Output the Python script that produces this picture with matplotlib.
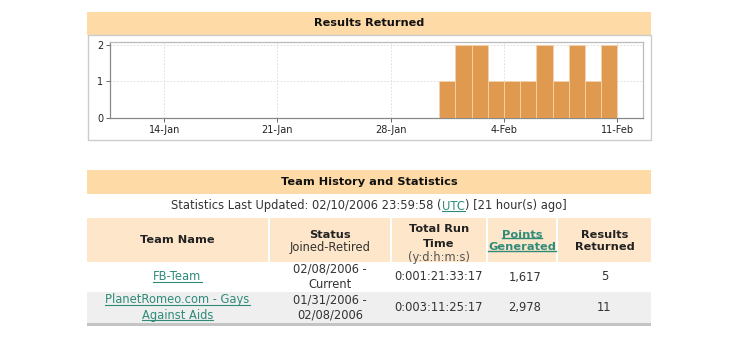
import matplotlib
matplotlib.use("Agg")
import matplotlib.pyplot as plt
import matplotlib.dates as mdates
from matplotlib.patches import Rectangle
from matplotlib.lines import Line2D
import datetime as dt

# ---------------- data ----------------
bar_dates = ["2006-01-31", "2006-02-01", "2006-02-02", "2006-02-03", "2006-02-04",
             "2006-02-05", "2006-02-06", "2006-02-07", "2006-02-08", "2006-02-09",
             "2006-02-10"]
bar_values = [1, 2, 2, 1, 1, 1, 2, 1, 2, 1, 2]
x_tick_dates = ["2006-01-14", "2006-01-21", "2006-01-28", "2006-02-04", "2006-02-11"]
x_tick_labels = ["14-Jan", "21-Jan", "28-Jan", "4-Feb", "11-Feb"]
y_ticks = [0, 1, 2]

chart_title = "Results Returned"
table_title = "Team History and Statistics"
updated_parts = ["Statistics Last Updated: 02/10/2006 23:59:58 (", "UTC", ") [21 hour(s) ago]"]

team_names = [["FB-Team"], ["PlanetRomeo.com - Gays", "Against Aids"]]
statuses = [["02/08/2006 -", "Current"], ["01/31/2006 -", "02/08/2006"]]
run_times = ["0:001:21:33:17", "0:003:11:25:17"]
points = ["1,617", "2,978"]
results = ["5", "11"]

# ---------------- style ----------------
W, H = 739, 345
BAND = "#FDDAA6"
CELL = "#FEE6CA"
GREY_ROW = "#EFEFEF"
BAR = "#E09A50"
LINK = "#2E8B7A"
TXT = "#222222"
FS = 8.3
FSB = 8.2

fig = plt.figure(figsize=(W / 100, H / 100), dpi=100)
fig.patch.set_facecolor("white")


def fx(x):
    return x / W


def fy(y):
    return 1 - y / H


def rect(x0, y0, x1, y1, fc, ec="none", lw=0.0, z=0):
    r = Rectangle((fx(x0), fy(y1)), fx(x1) - fx(x0), fy(y0) - fy(y1),
                  transform=fig.transFigure, facecolor=fc, edgecolor=ec,
                  linewidth=lw, zorder=z)
    fig.add_artist(r)
    return r


def text(x, y, s, size=FS, weight="normal", color=TXT, ha="center"):
    return fig.text(fx(x), fy(y), s, ha=ha, va="center", fontsize=size,
                    fontweight=weight, color=color, family="DejaVu Sans")


# ---------------- chart panel ----------------
rect(87, 12, 651, 35, BAND)
rect(87.5, 35, 650.5, 140, "none", ec="#CCCCCC", lw=1.0)
text(369, 23.5, chart_title, size=8.1, weight="bold", color="#111111")

ax = fig.add_axes([fx(110), fy(118.3), fx(642.7) - fx(110), fy(42) - fy(118.3)])
xd = [mdates.date2num(dt.datetime.strptime(d, "%Y-%m-%d")) for d in bar_dates]
ax.bar(xd, bar_values, width=1.0, align="edge", color=BAR,
       edgecolor="#F3D3B0", linewidth=0.6, zorder=3)
xt = [mdates.date2num(dt.datetime.strptime(d, "%Y-%m-%d")) for d in x_tick_dates]
ax.set_xticks(xt)
ax.set_xticklabels(x_tick_labels)
ax.set_yticks(y_ticks)
ax.set_xlim(xt[3] - 24.35, xt[4] + 1.57)
ax.set_ylim(0, 2.073)
ax.grid(True, color="#DADADA", linestyle=(0, (2, 2)), linewidth=0.6, zorder=0)
ax.tick_params(axis="both", length=3, width=0.7, color="#666666",
               labelsize=7, labelcolor="#222222", pad=2)
for s in ["left", "bottom"]:
    ax.spines[s].set_color("#888888")
    ax.spines[s].set_linewidth(0.9)
for s in ["top", "right"]:
    ax.spines[s].set_color("#BBBBBB")
    ax.spines[s].set_linewidth(0.9)

# ---------------- table ----------------
rect(87, 170, 651, 193.5, BAND)
text(369, 182, table_title, size=FSB, weight="bold", color="#111111")

cols = [(87, 268), (270, 390), (392, 486), (488, 556), (558, 651)]
for (a, b) in cols:
    rect(a, 218, b, 262, CELL)
rect(87, 292, 651, 323, GREY_ROW)
rect(87, 323, 651, 325.5, "#C4C4C4")

centers = [(a + b) / 2 for a, b in cols]
links = []

# column headers
text(centers[0], 240, "Team Name", size=FSB, weight="bold")
text(centers[1], 235, "Status", size=FSB, weight="bold")
text(centers[1], 248, "Joined-Retired", color="#333333")
text(centers[2], 228.5, "Total Run", size=FSB, weight="bold")
text(centers[2], 244, "Time", size=FSB, weight="bold")
text(centers[2], 257, "(y:d:h:m:s)", color="#555555")
links.append(text(centers[3], 234.5, "Points", size=FSB, weight="bold", color=LINK))
links.append(text(centers[3], 247.5, "Generated", size=FSB, weight="bold", color=LINK))
text(centers[4], 234.5, "Results", size=FSB, weight="bold")
text(centers[4], 247.5, "Returned", size=FSB, weight="bold")

row_mid = [277, 307.5]
for i in range(2):
    m = row_mid[i]
    names = team_names[i]
    if len(names) == 1:
        links.append(text(centers[0], m, names[0], color=LINK))
    else:
        links.append(text(centers[0], m - 7.5, names[0], color=LINK))
        links.append(text(centers[0], m + 7.5, names[1], color=LINK))
    text(centers[1], m - 7.5, statuses[i][0], color="#333333")
    text(centers[1], m + 7.5, statuses[i][1], color="#333333")
    text(centers[2] - 0.5, m, run_times[i], color="#333333")
    text(centers[3] + 3, m, points[i], color="#333333")
    text(centers[4], m, results[i], color="#333333")

# "Statistics Last Updated" line with link segment
fig.canvas.draw()
r = fig.canvas.get_renderer()
pieces = []
for k, s in enumerate(updated_parts):
    pieces.append(text(0, 206, s, color=LINK if k == 1 else "#333333", ha="left"))
widths = [p.get_window_extent(r).width for p in pieces]
total = sum(widths)
x0 = 369 - total / 2
for p, w in zip(pieces, widths):
    p.set_x(fx(x0))
    x0 += w
links.append(pieces[1])

fig.canvas.draw()
for t in links:
    bb = t.get_window_extent(r)
    yb = bb.y0 + 2.0
    fig.add_artist(Line2D([bb.x0 / W, bb.x1 / W], [yb / H, yb / H],
                          transform=fig.transFigure, color=t.get_color(),
                          linewidth=0.8 if t.get_fontweight() != "bold" else 1.0))

fig.savefig("out.png", dpi=100)
